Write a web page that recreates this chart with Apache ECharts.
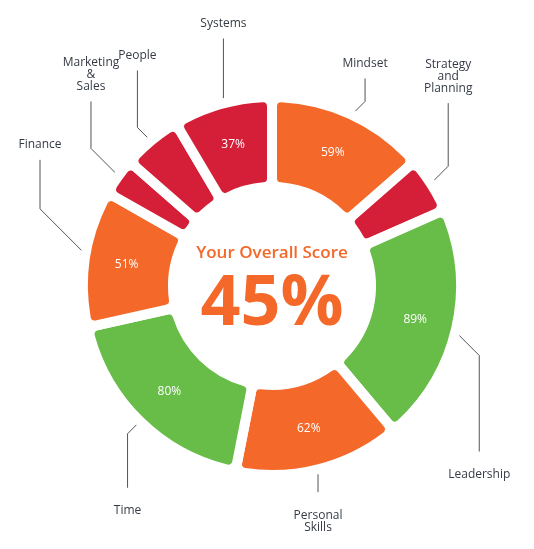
<!DOCTYPE html>
<html>
<head>
<meta charset="utf-8">
<script src="https://cdn.jsdelivr.net/npm/echarts@6/dist/echarts.min.js"></script>
<style>
	html, body {margin: 0; padding: 0; background: #fff;}
	#chart {width: 534px; height: 549px;}
</style>
</head>
<body>
<div id="chart"></div>
<script>
//	data
var categories = ['Mindset', 'Strategy\nand\nPlanning', 'Leadership', 'Personal\nSkills', 'Time', 'Finance', 'Marketing\n&\nSales', 'People', 'Systems'];
var scores = [59, 21, 89, 62, 80, 51, 14, 22, 37];
var overallLabel = 'Your Overall Score';
var overallScore = '45%';

//	leader line legs (diagonal, vertical) per slice
var legDiag = [17, 21, 28, 0, 16, 50, 31, 17, 0];
var legVert = [23, 63, 96, 28, 54, 49, 47, 57, 70];

var CX = 272, CY = 286;
var RED = '#d51f38', ORANGE = '#f4682a', GREEN = '#68bc48';

function scoreColor(v) {
	if(v < 40) return RED;
	if(v < 70) return ORANGE;
	return GREEN;
}

var pieData = [];
for(var i=0; i<categories.length; i++) {
	pieData.push({name: categories[i], value: scores[i]});
}

var myChart = echarts.init(document.getElementById('chart'));

var option = {
	animation: false,
	graphic: [
		{
			type: 'text',
			style: {
				x: CX, y: 253,
				text: overallLabel,
				fill: ORANGE,
				font: '600 17px "Open Sans"',
				textAlign: 'center',
				textVerticalAlign: 'middle'
			}
		},
		{
			type: 'text',
			style: {
				x: CX, y: 305,
				text: overallScore,
				fill: ORANGE,
				font: 'bold 70px "Open Sans"',
				textAlign: 'center',
				textVerticalAlign: 'middle'
			}
		}
	],
	series: [
		{
			//	invisible copy carrying the name labels
			type: 'pie',
			center: [CX, CY],
			radius: [104, 184],
			startAngle: 90,
			silent: true,
			itemStyle: {color: 'rgba(0,0,0,0)', borderWidth: 0},
			label: {
				position: 'outside',
				color: '#353b45',
				fontSize: 12,
				lineHeight: 12,
				fontFamily: 'Open Sans',
				align: 'center',
				overflow: 'none',
				formatter: '{b}'
			},
			labelLine: {
				show: true,
				lineStyle: {color: '#4f5459', width: 1}
			},
			labelLayout: function(params) {
				var i = params.dataIndex;
				var p0 = params.labelLinePoints ? params.labelLinePoints[0] : [CX, CY];
				var sx = p0[0] < CX - 1 ? -1 : (p0[0] > CX + 1 ? 1 : 0);
				var sy = p0[1] < CY ? -1 : 1;
				var elbow = [p0[0] + sx*legDiag[i], p0[1] + sy*legDiag[i]];
				var end = [elbow[0], elbow[1] + sy*legVert[i]];
				return {
					x: end[0],
					y: end[1] + (sy < 0 ? -9 : 17),
					align: 'center',
					verticalAlign: sy < 0 ? 'bottom' : 'top',
					labelLinePoints: [p0, elbow, end]
				};
			},
			data: pieData
		},
		{
			//	coloured ring with value labels
			type: 'pie',
			center: [CX, CY],
			radius: [99, 189],
			startAngle: 90,
			itemStyle: {
				color: function(p) { return scoreColor(p.value); },
				borderColor: '#fff',
				borderWidth: 10,
				borderRadius: 9
			},
			emphasis: {disabled: true},
			label: {
				position: 'inside',
				color: '#fff',
				fontSize: 12,
				fontFamily: 'Open Sans',
				formatter: function(p) {
					return p.value < 30 ? '' : p.value + '%';
				}
			},
			labelLine: {show: false},
			data: pieData
		}
	]
};

myChart.setOption(option);
</script>
</body>
</html>
